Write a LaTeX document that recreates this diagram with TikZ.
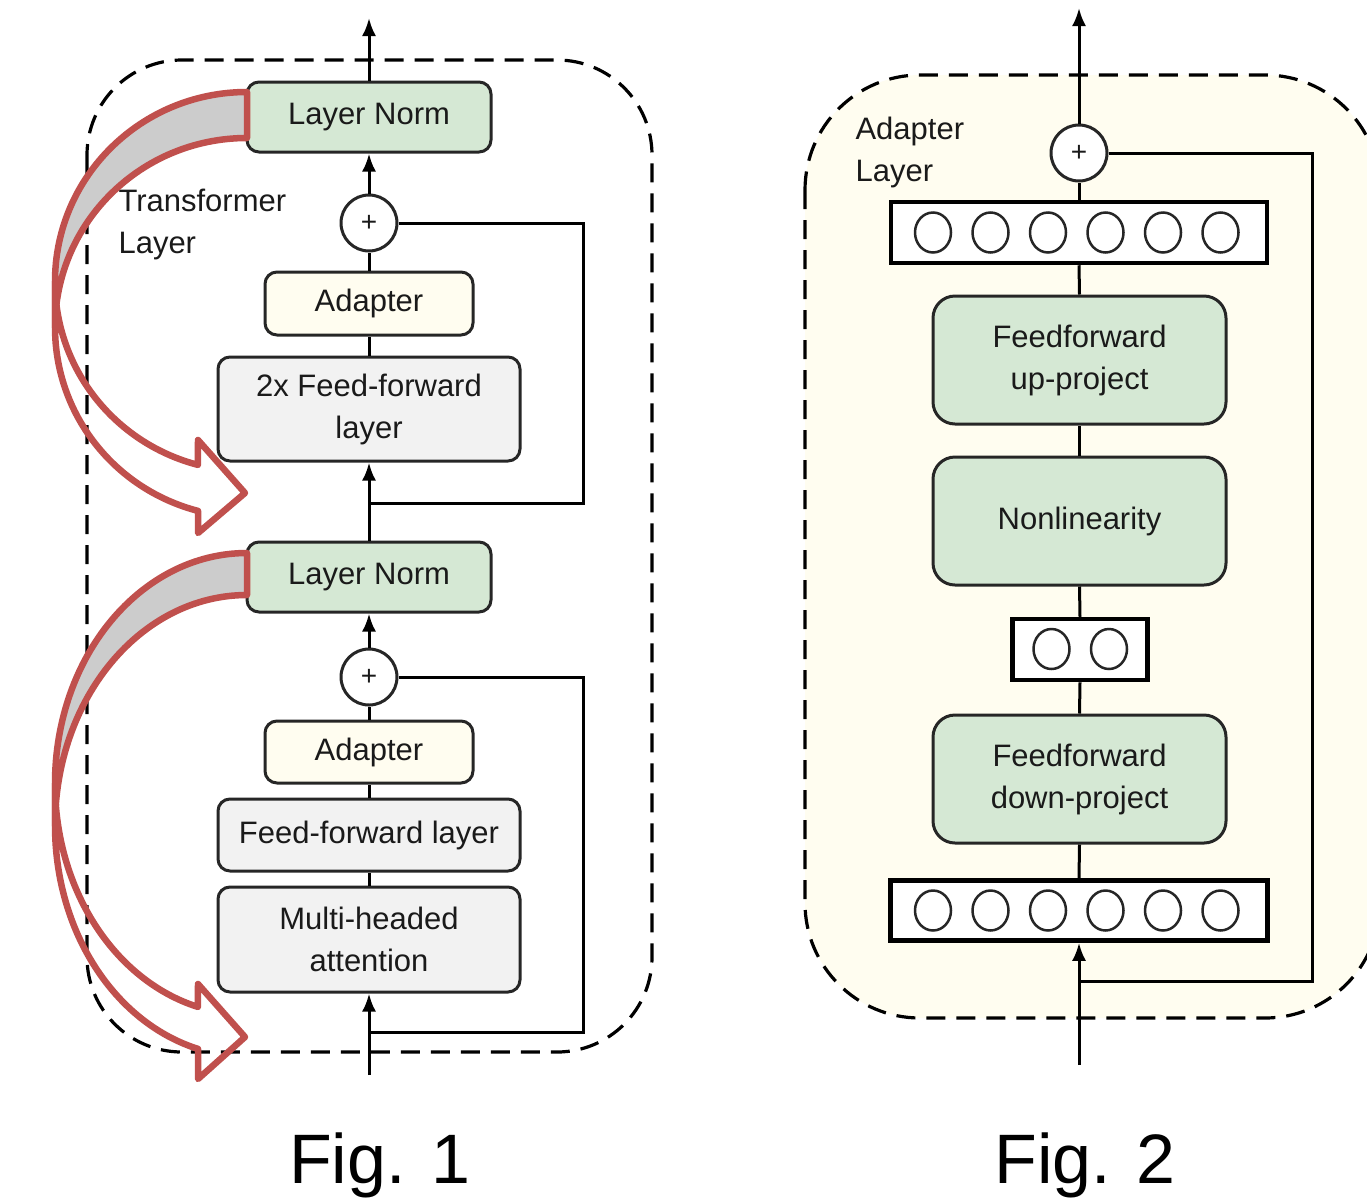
\documentclass[tikz,border=0pt]{standalone}
\usepackage{fontspec}
\setmainfont{Liberation Sans}
\usetikzlibrary{arrows.meta}

\definecolor{ffgreen}{HTML}{D5E8D4}
\definecolor{creamfill}{HTML}{FFFDF0}
\definecolor{boxgray}{HTML}{F2F2F2}
\definecolor{arrowred}{HTML}{C0504D}
\definecolor{backgray}{HTML}{CCCCCC}
\definecolor{edgeline}{HTML}{262626}
\definecolor{inktext}{HTML}{1A1A1A}

\begin{document}
\begin{tikzpicture}[x=1pt,y=1pt,
  txt/.style={font=\fontsize{31}{42}\selectfont, text=inktext},
  blk/.style={txt, draw=edgeline, line width=3pt, rounded corners=12pt,
              inner sep=0pt, align=center},
  gblk/.style={blk, fill=ffgreen, rounded corners=22pt,
               minimum width=293pt, minimum height=128pt},
  sumnode/.style={circle, draw=edgeline, line width=3pt, fill=white,
                  minimum size=56pt, inner sep=0pt,
                  font=\fontsize{28}{28}\selectfont, text=inktext},
  unitbar/.style={rectangle, draw=black, line width=4.5pt, fill=white,
                  inner sep=0pt},
  unitcell/.style={draw=edgeline, line width=2.5pt},
  wire/.style={draw=black, line width=3pt},
  flowline/.style={wire, -{Latex[length=18pt,width=14pt]}},
  dashframe/.style={draw=black, line width=3.2pt, dash pattern=on 19pt off 11pt},
  redband/.style={draw=arrowred, line width=6.5pt, line join=round},
  figcaption/.style={font=\fontsize{70}{70}\selectfont, text=black, inner sep=0pt, anchor=base}
]
\useasboundingbox (0,0) rectangle (1367,-1203);
\clip (0,0) rectangle (1367,-1203);

% ---------- Fig. 1: transformer layer with adapters ----------
\draw[dashframe, rounded corners=95pt] (87,-60) rectangle (652,-1052);

\node[txt, align=left, anchor=west] (tlabel) at (115,-224) {Transformer\\Layer};

\node[blk, fill=ffgreen, minimum width=244pt, minimum height=70pt] (ln1) at (369,-117) {Layer Norm};
\node[sumnode] (s1) at (369,-223) {+};
\node[blk, fill=creamfill, minimum width=208pt, minimum height=63pt] (ad1) at (369,-303.5) {Adapter};
\node[blk, fill=boxgray, minimum width=302pt, minimum height=104pt] (ff2) at (369,-409) {2x Feed-forward\\layer};
\node[blk, fill=ffgreen, minimum width=244pt, minimum height=70pt] (ln2) at (369,-577) {Layer Norm};
\node[sumnode] (s2) at (369,-677) {+};
\node[blk, fill=creamfill, minimum width=208pt, minimum height=62pt] (ad2) at (369,-752) {Adapter};
\node[blk, fill=boxgray, minimum width=302pt, minimum height=72pt] (ff1) at (369,-835) {Feed-forward layer};
\node[blk, fill=boxgray, minimum width=302pt, minimum height=105pt] (mha) at (369,-939.5) {Multi-headed\\attention};

\coordinate (out1) at (369,-18);
\coordinate (in1) at (369,-1075);
\coordinate (br1) at (369,-503);
\coordinate (br2) at (369,-1032);

\draw[flowline] (ln1.north) -- (out1);
\draw[flowline] (s1.north) -- (ln1.south);
\draw[wire] (ad1.north) -- (s1.south);
\draw[wire] (ff2.north) -- (ad1.south);
\draw[flowline] (ln2.north) -- (ff2.south);
\draw[wire] (br1) -- ++(214,0) |- (s1.east);

\draw[flowline] (s2.north) -- (ln2.south);
\draw[wire] (ad2.north) -- (s2.south);
\draw[wire] (ff1.north) -- (ad2.south);
\draw[wire] (mha.north) -- (ff1.south);
\draw[flowline] (in1) -- (mha.south);
\draw[wire] (br2) -- ++(214,0) |- (s2.east);

% curved block arrows: shaded back of the band, then the front with its head
\filldraw[redband, fill=backgray] (247,-92)
  arc[start angle=90, end angle=180, x radius=192, y radius=189.6] -- (55,-327.6)
  arc[start angle=180, end angle=90, x radius=192, y radius=189.6] -- cycle;
\draw[redband] (55,-281.6)
  arc[start angle=180, end angle=255.2, x radius=192, y radius=189.6]
  -- (198,-440) -- (245,-493) -- (198,-533) -- (198,-510.9)
  arc[start angle=255.2, end angle=180, x radius=192, y radius=189.6] -- cycle;

\filldraw[redband, fill=backgray] (247,-553)
  arc[start angle=90, end angle=180, x radius=192, y radius=230.8] -- (55,-825.8)
  arc[start angle=180, end angle=90, x radius=192, y radius=230.8] -- cycle;
\draw[redband] (55,-783.8)
  arc[start angle=180, end angle=255.2, x radius=192, y radius=230.8]
  -- (198,-984) -- (245,-1037) -- (198,-1079) -- (198,-1048.9)
  arc[start angle=255.2, end angle=180, x radius=192, y radius=230.8] -- cycle;

\node[figcaption] (cap1) at (380,-1183) {Fig. 1};

% ---------- Fig. 2: adapter layer ----------
\draw[dashframe, fill=creamfill, rounded corners=115pt] (805,-75) rectangle (1380,-1018);

\node[txt, align=left, anchor=west] (alabel) at (852,-152) {Adapter\\Layer};

\node[sumnode] (s3) at (1079,-153) {+};
\node[unitbar, minimum width=376pt, minimum height=61pt] (topbar) at (1079,-232.5) {};
\node[gblk] (ffup) at (1079.5,-360) {Feedforward\\up-project};
\node[gblk] (nonlin) at (1079.5,-521) {Nonlinearity};
\node[unitbar, minimum width=135pt, minimum height=61pt] (midbar) at (1080,-649.5) {};
\node[gblk] (ffdown) at (1079.5,-779) {Feedforward\\down-project};
\node[unitbar, minimum width=377pt, minimum height=60pt] (botbar) at (1079,-910.5) {};

\foreach \cx in {933,990.5,1048,1105.5,1163,1220.5}
  \draw[unitcell] (\cx,-232.5) ellipse[x radius=18, y radius=20];
\foreach \cx in {1051.5,1109}
  \draw[unitcell] (\cx,-649) ellipse[x radius=18, y radius=20];
\foreach \cx in {933,990.5,1048,1105.5,1163,1220.5}
  \draw[unitcell] (\cx,-910.5) ellipse[x radius=18, y radius=20];

\coordinate (out2) at (1079,-8);
\coordinate (in2) at (1079,-1065);
\coordinate (br3) at (1079,-981);

\draw[flowline] (s3.north) -- (out2);
\draw[wire] (topbar.north) -- (s3.south);
\draw[wire] (ffup.north) -- (topbar.south);
\draw[wire] (nonlin.north) -- (ffup.south);
\draw[wire] (midbar.north) -- (nonlin.south);
\draw[wire] (ffdown.north) -- (midbar.south);
\draw[wire] (botbar.north) -- (ffdown.south);
\draw[flowline] (in2) -- (botbar.south);
\draw[wire] (br3) -- ++(233,0) |- (s3.east);

\node[figcaption] (cap2) at (1085,-1183) {Fig. 2};
\end{tikzpicture}
\end{document}
